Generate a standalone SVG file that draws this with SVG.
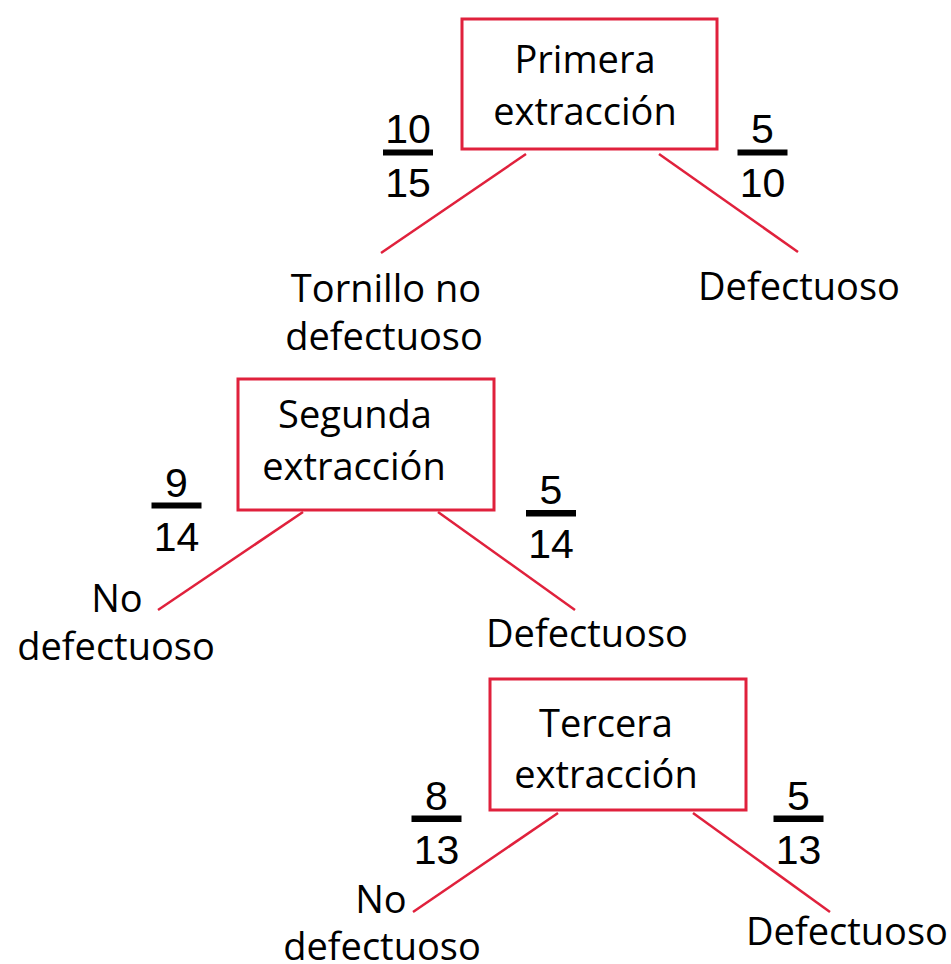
<svg xmlns="http://www.w3.org/2000/svg" width="951" height="964" viewBox="0 0 951 964">
<style>
.box{fill:#fff;stroke:#e0213c;stroke-width:3}
.edge{stroke:#e0213c;stroke-width:2.5;fill:none}
.lbl{font-family:"Open Sans","Noto Sans",sans-serif;font-size:38px;fill:#000;text-anchor:middle}
.num{font-family:"Liberation Sans",Arial,sans-serif;font-size:41px;fill:#000;text-anchor:middle}
.bar{fill:#000}
</style>
<rect width="951" height="964" fill="#fff"/>
<g id="connectors">
<line class="edge" x1="526" y1="154" x2="381" y2="253"/>
<line class="edge" x1="659" y1="154" x2="798" y2="252"/>
<line class="edge" x1="303" y1="512" x2="158" y2="610"/>
<line class="edge" x1="438" y1="512" x2="575" y2="610"/>
<line class="edge" x1="558" y1="813" x2="413" y2="912"/>
<line class="edge" x1="693" y1="813" x2="830" y2="912"/>
</g>
<g id="box1">
<rect class="box" x="462" y="19" width="255" height="130"/>
<text class="lbl" x="585" y="73">Primera</text>
<text class="lbl" x="585" y="125">extracción</text>
</g>
<g id="box2">
<rect class="box" x="238" y="379" width="256" height="131"/>
<text class="lbl" x="355" y="428">Segunda</text>
<text class="lbl" x="354" y="480">extracción</text>
</g>
<g id="box3">
<rect class="box" x="490" y="679" width="256" height="131"/>
<text class="lbl" x="606" y="737">Tercera</text>
<text class="lbl" x="606" y="788">extracción</text>
</g>
<g id="leaf-tornillo">
<text class="lbl" x="386" y="302">Tornillo no</text>
<text class="lbl" x="384" y="350">defectuoso</text>
</g>
<g id="leaf-defectuoso1">
<text class="lbl" x="799" y="300">Defectuoso</text>
</g>
<g id="leaf-nodef2">
<text class="lbl" x="117" y="612">No</text>
<text class="lbl" x="116" y="660">defectuoso</text>
</g>
<g id="leaf-defectuoso2">
<text class="lbl" x="587" y="647">Defectuoso</text>
</g>
<g id="leaf-nodef3">
<text class="lbl" x="381" y="913">No</text>
<text class="lbl" x="382" y="960">defectuoso</text>
</g>
<g id="leaf-defectuoso3">
<text class="lbl" x="847" y="945">Defectuoso</text>
</g>
<g id="frac-10-15">
<text class="num" x="408" y="143">10</text>
<rect class="bar" x="383" y="149.5" width="50" height="6"/>
<text class="num" x="408" y="197">15</text>
</g>
<g id="frac-5-10">
<text class="num" x="762.5" y="143">5</text>
<rect class="bar" x="737.5" y="149.5" width="50" height="6"/>
<text class="num" x="762.5" y="197">10</text>
</g>
<g id="frac-9-14">
<text class="num" x="176.5" y="497">9</text>
<rect class="bar" x="151.5" y="502.5" width="50" height="6"/>
<text class="num" x="176.5" y="551">14</text>
</g>
<g id="frac-5-14">
<text class="num" x="551" y="503.5">5</text>
<rect class="bar" x="526" y="510" width="50" height="6.5"/>
<text class="num" x="551" y="557.5">14</text>
</g>
<g id="frac-8-13">
<text class="num" x="436.5" y="810">8</text>
<rect class="bar" x="411.5" y="815.5" width="50" height="6.5"/>
<text class="num" x="436.5" y="864">13</text>
</g>
<g id="frac-5-13">
<text class="num" x="798.5" y="810">5</text>
<rect class="bar" x="773.5" y="815.5" width="50" height="6.5"/>
<text class="num" x="798.5" y="864">13</text>
</g>
</svg>
